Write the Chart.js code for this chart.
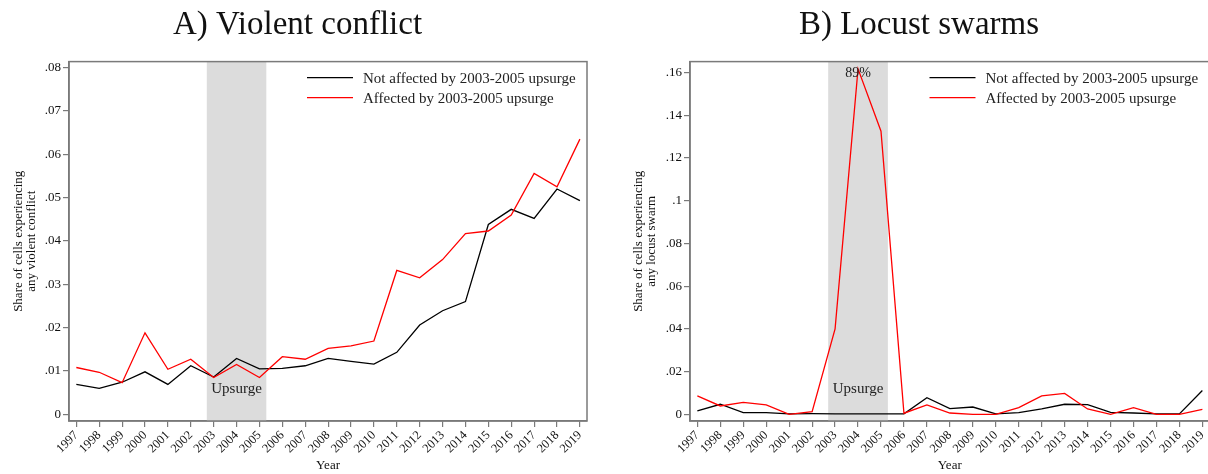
<!DOCTYPE html>
<html>
<head>
<meta charset="utf-8">
<script src="https://cdn.jsdelivr.net/npm/chart.js@4/dist/chart.umd.min.js"></script>
<style>
  html, body { margin: 0; padding: 0; background: #fff; overflow: hidden; }
  .panel { position: absolute; top: 0; height: 474px; }
  #panelA { left: 0; width: 604px; }
  #panelB { left: 604px; width: 610px; }
</style>
</head>
<body>
<div class="panel" id="panelA"><canvas id="chartA"></canvas></div>
<div class="panel" id="panelB"><canvas id="chartB"></canvas></div>
<script>
// Years on the horizontal axis
const years = [1997, 1998, 1999, 2000, 2001, 2002, 2003, 2004, 2005, 2006, 2007, 2008,
               2009, 2010, 2011, 2012, 2013, 2014, 2015, 2016, 2017, 2018, 2019];
const yearLabels = years.map(String);

// Upsurge period shading (in year units)
const upsurgeStart = 2002.7;
const upsurgeEnd = 2005.3;

// A) Share of cells experiencing any violent conflict
const conflictNotAffected = [0.0069, 0.0060, 0.0074, 0.0098, 0.0069, 0.0112, 0.0086, 0.0129, 0.0105,
                             0.0106, 0.0112, 0.0129, 0.0122, 0.0116, 0.0143, 0.0206, 0.0239, 0.0260,
                             0.0438, 0.0473, 0.0452, 0.0520, 0.0493];
const conflictAffected = [0.0108, 0.0097, 0.0073, 0.0188, 0.0104, 0.0127, 0.0085, 0.0115, 0.0085,
                          0.0133, 0.0127, 0.0152, 0.0158, 0.0169, 0.0332, 0.0315, 0.0357, 0.0417,
                          0.0423, 0.0460, 0.0556, 0.0525, 0.0635];
const conflictTicks = [0, 0.01, 0.02, 0.03, 0.04, 0.05, 0.06, 0.07, 0.08];
const conflictTickLabels = ['0', '.01', '.02', '.03', '.04', '.05', '.06', '.07', '.08'];

// B) Share of cells experiencing any locust swarm
const swarmNotAffected = [0.0016, 0.0047, 0.0008, 0.0008, 0.0002, 0.0003, 0.0002, 0.0002, 0.0002,
                          0.0002, 0.0078, 0.0027, 0.0034, 0.0002, 0.0008, 0.0025, 0.0047, 0.0045,
                          0.0009, 0.0006, 0.0002, 0.0002, 0.0111];
const swarmAffected = [0.0086, 0.0039, 0.0056, 0.0044, 0.0000, 0.0012, 0.0400, 0.8900, 0.1325,
                       0.0005, 0.0044, 0.0006, 0.0000, 0.0000, 0.0031, 0.0086, 0.0098, 0.0025,
                       0.0000, 0.0031, 0.0000, 0.0000, 0.0023];
const swarmTicks = [0, 0.02, 0.04, 0.06, 0.08, 0.1, 0.12, 0.14, 0.16];
const swarmTickLabels = ['0', '.02', '.04', '.06', '.08', '.1', '.12', '.14', '.16'];
// values above this are drawn at the cap and labelled with their real value
const swarmCap = 0.1617;

const seriesNames = ['Not affected by 2003-2005 upsurge', 'Affected by 2003-2005 upsurge'];
const seriesColors = ['#000000', '#ff0000'];

const SERIF = '"Liberation Serif", "Times New Roman", serif';
const FRAME = '#7a7a7a';

// Grey band, frame and in-plot texts
const decorPlugin = {
  id: 'decor',
  beforeDatasetsDraw(chart, args, opts) {
    const {ctx, chartArea: a, scales: {x}} = chart;
    const x0 = x.getPixelForValue(upsurgeStart);
    const x1 = x.getPixelForValue(upsurgeEnd);
    ctx.save();
    ctx.fillStyle = '#dcdcdc';
    ctx.fillRect(x0, a.top, x1 - x0, a.bottom - a.top);
    ctx.fillStyle = '#222';
    ctx.font = '15px ' + SERIF;
    ctx.textAlign = 'center';
    ctx.textBaseline = 'middle';
    ctx.fillText('Upsurge', (x0 + x1) / 2, a.bottom - 32);
    ctx.restore();
  },
  afterDatasetsDraw(chart, args, opts) {
    const {ctx, chartArea: a, scales: {x, y}} = chart;
    ctx.save();
    // capped values get their true value written above them
    if (opts.capped) {
      opts.capped.forEach(c => {
        ctx.fillStyle = '#222';
        ctx.font = '14px ' + SERIF;
        ctx.textAlign = 'center';
        ctx.textBaseline = 'middle';
        ctx.fillText(Math.round(c.value * 100) + '%', x.getPixelForValue(c.year), a.top + 12);
      });
    }
    // legend inside the plot, top right
    const lx = a.right - 280;
    chart.data.datasets.forEach((ds, i) => {
      const ly = a.top + 16 + i * 20;
      ctx.strokeStyle = ds.borderColor;
      ctx.lineWidth = 1.3;
      ctx.beginPath();
      ctx.moveTo(lx, ly);
      ctx.lineTo(lx + 46, ly);
      ctx.stroke();
      ctx.fillStyle = '#222';
      ctx.font = '15px ' + SERIF;
      ctx.textAlign = 'left';
      ctx.textBaseline = 'middle';
      ctx.fillText(ds.label, lx + 56, ly + 1);
    });
    // plot region frame
    ctx.strokeStyle = FRAME;
    ctx.lineWidth = 1.5;
    ctx.strokeRect(a.left, a.top, a.right - a.left, a.bottom - a.top);
    ctx.restore();
  }
};

function makeChart(canvasId, cfg) {
  const datasets = [cfg.notAffected, cfg.affected].map((vals, i) => ({
    label: seriesNames[i],
    data: years.map((yr, k) => ({x: yr, y: cfg.cap ? Math.min(vals[k], cfg.cap) : vals[k]})),
    borderColor: seriesColors[i],
    borderWidth: 1.3,
    pointRadius: 0,
    tension: 0,
    order: i === 1 ? 0 : 1
  }));
  const capped = [];
  if (cfg.cap) {
    cfg.affected.forEach((v, k) => { if (v > cfg.cap) capped.push({year: years[k], value: v}); });
  }
  return new Chart(document.getElementById(canvasId), {
    type: 'line',
    data: {datasets},
    plugins: [decorPlugin],
    options: {
      responsive: true,
      maintainAspectRatio: false,
      animation: false,
      events: [],
      layout: {padding: {left: cfg.padLeft, right: cfg.padRight, top: 0, bottom: 0}},
      plugins: {
        legend: {display: false},
        tooltip: {enabled: false},
        title: {
          display: true,
          text: cfg.title,
          color: '#111',
          font: {family: SERIF, size: 33, weight: 'normal', lineHeight: 1.2},
          padding: {top: 6, bottom: 16}
        },
        decor: {capped}
      },
      scales: {
        x: {
          type: 'linear',
          min: 1996.68,
          max: 2019.31,
          afterBuildTicks: s => { s.ticks = years.map(v => ({value: v})); },
          afterFit: s => { s.height = 53; },
          ticks: {
            autoSkip: false,
            minRotation: 45,
            maxRotation: 45,
            padding: 1,
            color: '#111',
            font: {family: SERIF, size: 12.5},
            callback: (v) => yearLabels[years.indexOf(v)]
          },
          grid: {drawOnChartArea: false, tickLength: 6, color: FRAME, lineWidth: 1.2},
          border: {color: FRAME, width: 1.5},
          title: {
            display: true,
            text: 'Year',
            color: '#111',
            font: {family: SERIF, size: 13},
            padding: {top: 0, bottom: 1}
          }
        },
        y: {
          min: cfg.yMin,
          max: cfg.yMax,
          afterBuildTicks: s => { s.ticks = cfg.ticks.map(v => ({value: v})); },
          afterFit: s => { s.width = cfg.yWidth; },
          ticks: {
            padding: 2,
            color: '#111',
            font: {family: SERIF, size: 13},
            callback: (v) => cfg.tickLabels[cfg.ticks.indexOf(v)]
          },
          grid: {drawOnChartArea: false, tickLength: 6, color: FRAME, lineWidth: 1.2},
          border: {color: FRAME, width: 1.5},
          title: {
            display: true,
            text: cfg.yTitle,
            color: '#111',
            font: {family: SERIF, size: 13, lineHeight: 1.05},
            padding: {top: cfg.yTitlePad, bottom: 0}
          }
        }
      }
    }
  });
}

makeChart('chartA', {
  title: 'A) Violent conflict',
  notAffected: conflictNotAffected,
  affected: conflictAffected,
  ticks: conflictTicks,
  tickLabels: conflictTickLabels,
  yMin: -0.00155,
  yMax: 0.0814,
  yTitle: ['Share of cells experiencing', 'any violent conflict'],
  padLeft: 8,
  padRight: 17,
  yWidth: 61,
  yTitlePad: 3.5
});

makeChart('chartB', {
  title: 'B) Locust swarms',
  notAffected: swarmNotAffected,
  affected: swarmAffected,
  cap: swarmCap,
  ticks: swarmTicks,
  tickLabels: swarmTickLabels,
  yMin: -0.00314,
  yMax: 0.1651,
  yTitle: ['Share of cells experiencing', 'any locust swarm'],
  padLeft: 21,
  padRight: 1,
  yWidth: 65,
  yTitlePad: 6.5
});
</script>
</body>
</html>
